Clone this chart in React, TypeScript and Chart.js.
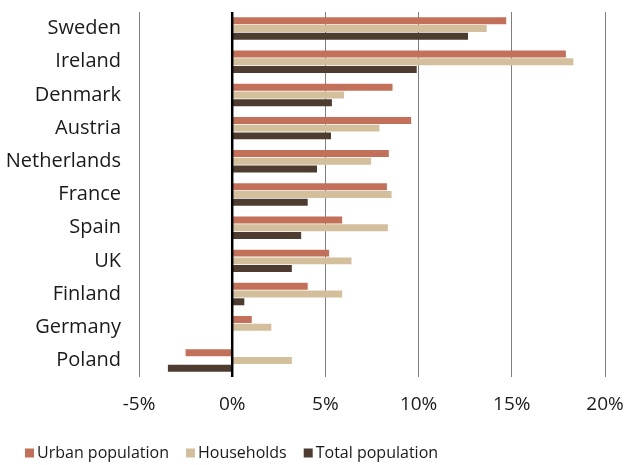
import React, { useEffect, useRef } from "react";
import { Chart, registerables } from "chart.js";

Chart.register(...registerables);

const countries = ["Sweden", "Ireland", "Denmark", "Austria", "Netherlands", "France", "Spain", "UK", "Finland", "Germany", "Poland"];
const urbanPopulation = [14.7, 17.9, 8.6, 9.6, 8.4, 8.3, 5.9, 5.2, 4.05, 1.05, -2.5];
const households = [13.65, 18.3, 6.0, 7.9, 7.45, 8.55, 8.35, 6.4, 5.9, 2.1, 3.2];
const totalPopulation = [12.65, 9.9, 5.35, 5.3, 4.55, 4.05, 3.7, 3.2, 0.65, 0, -3.45];
const xTicks = [-5, 0, 5, 10, 15, 20];

const seriesNames = ["Urban population", "Households", "Total population"];
const seriesColors = ["#C3705A", "#D3BF9C", "#4E3C31"];

const FONT = "'Open Sans', 'DejaVu Sans', sans-serif";
const TEXT = "#1a1a1a";

export default function App() {
  const ref = useRef<HTMLCanvasElement | null>(null);

  useEffect(() => {
    document.body.style.margin = "0";
    const canvas = ref.current;
    if (!canvas) return;

    const zeroLine = {
      id: "zeroLine",
      afterDatasetsDraw(chart: any) {
        const x = chart.scales.x.getPixelForValue(0);
        const { top, bottom } = chart.chartArea;
        const c = chart.ctx;
        c.save();
        c.strokeStyle = "#000";
        c.lineWidth = 2.5;
        c.beginPath();
        c.moveTo(x, top);
        c.lineTo(x, bottom);
        c.stroke();
        c.restore();
      },
    };

    const customLegend = {
      id: "customLegend",
      afterDraw(chart: any) {
        const c = chart.ctx;
        c.save();
        c.font = `16px ${FONT}`;
        c.textBaseline = "middle";
        c.textAlign = "left";
        const y = 453;
        let x = 25;
        chart.data.datasets.forEach((ds: any) => {
          c.fillStyle = ds.backgroundColor;
          c.fillRect(x, y - 4.5, 9, 9);
          x += 12;
          c.fillStyle = TEXT;
          c.fillText(ds.label, x, y);
          x += c.measureText(ds.label).width + 17;
        });
        c.restore();
      },
    };

    const chart = new Chart(canvas, {
      type: "bar",
      data: {
        labels: countries,
        datasets: [urbanPopulation, households, totalPopulation].map((d, i) => ({
          label: seriesNames[i],
          data: d,
          backgroundColor: seriesColors[i],
          borderWidth: 0,
          categoryPercentage: 0.7,
          barPercentage: 0.9,
        })),
      },
      options: {
        indexAxis: "y",
        animation: false,
        responsive: false,
        maintainAspectRatio: false,
        layout: { padding: { top: 12, right: 23, bottom: 48, left: 0 } },
        scales: {
          x: {
            min: -5,
            max: 20,
            afterBuildTicks: (scale: any) => {
              scale.ticks = xTicks.map((v) => ({ value: v }));
            },
            afterFit: (scale: any) => {
              scale.height = 40;
            },
            ticks: {
              color: TEXT,
              font: { family: FONT, size: 19 },
              padding: 0,
              callback: (v: any) => v + "%",
            },
            grid: { color: "#7f7f7f", lineWidth: 1, drawTicks: true, tickLength: 16, tickColor: "rgba(0,0,0,0)" },
            border: { display: false },
          },
          y: {
            afterFit: (scale: any) => {
              scale.width = 139;
            },
            ticks: {
              color: TEXT,
              font: { family: FONT, size: 20 },
              padding: 0,
            },
            grid: { display: true, drawOnChartArea: false, drawTicks: true, tickLength: 18, tickColor: "rgba(0,0,0,0)", color: "rgba(0,0,0,0)" },
            border: { display: false },
          },
        },
        plugins: {
          legend: { display: false },
          tooltip: { enabled: false },
        },
      },
      plugins: [zeroLine, customLegend],
    } as any);

    return () => chart.destroy();
  }, []);

  return (
    <div style={{ width: 628, height: 465, position: "relative" }}>
      <canvas ref={ref} width={628} height={465} style={{ width: 628, height: 465, display: "block" }} />
    </div>
  );
}
